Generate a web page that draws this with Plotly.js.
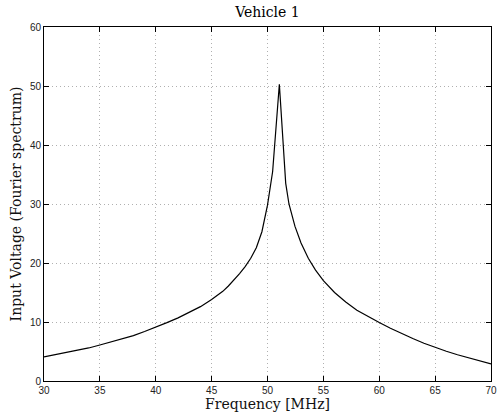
<!DOCTYPE html>
<html>
<head>
<meta charset="utf-8">
<script src="https://cdn.plot.ly/plotly-3.0.1.min.js"></script>
<style>html,body{margin:0;padding:0;background:#fff;}#chart{width:498px;height:419px;}</style>
</head>
<body>
<div id="chart"></div>
<script>
const frequency = [30, 31, 32, 33, 34, 35, 36, 37, 38, 39, 40, 41, 42, 43, 44, 45, 46, 46.5, 47, 47.5, 48, 48.5, 49, 49.5, 50, 50.46, 51.06, 51.63, 51.92, 52.46, 53, 53.65, 54.3, 55, 56, 57, 58, 59, 60, 61, 62, 63, 64, 65, 66, 67, 68, 69, 70];
const voltage   = [4.1, 4.45, 4.8, 5.2, 5.6, 6.1, 6.6, 7.1, 7.7, 8.4, 9.1, 9.9, 10.7, 11.6, 12.6, 13.8, 15.2, 16.1, 17.1, 18.2, 19.4, 20.8, 22.6, 25.3, 29.8, 35.5, 50.3, 33.5, 30.0, 26.2, 23.4, 20.8, 18.8, 17.0, 15.0, 13.4, 12.0, 10.9, 9.9, 8.95, 8.05, 7.2, 6.4, 5.7, 5.05, 4.45, 3.9, 3.4, 2.9];
const xTicks = [30, 35, 40, 45, 50, 55, 60, 65, 70];
const yTicks = [0, 10, 20, 30, 40, 50, 60];

const serif = "DejaVu Serif, serif";
const sans = "Liberation Sans, Arial, sans-serif";

const axisCommon = {
  showline: true, linecolor: '#000', linewidth: 1, mirror: 'ticks',
  ticks: 'inside', ticklen: 5, tickcolor: '#000', tickwidth: 1,
  showgrid: true, gridcolor: '#b0b0b0', griddash: '1px,3px', gridwidth: 1,
  zeroline: false, tickfont: {family: sans, size: 10, color: '#222'}
};

Plotly.newPlot('chart', [{
  x: frequency, y: voltage, type: 'scatter', mode: 'lines',
  line: {color: '#000', width: 1.2}, showlegend: false, hoverinfo: 'skip'
}], {
  width: 498, height: 419,
  margin: {l: 44, r: 7, t: 27, b: 38},
  paper_bgcolor: '#fff', plot_bgcolor: '#fff',
  title: {text: 'Vehicle 1', font: {family: serif, size: 14, color: '#000'}, x: 0.537, xanchor: 'center', y: 0.972, yanchor: 'middle'},
  xaxis: Object.assign({}, axisCommon, {
    range: [30, 70], tickvals: xTicks, ticktext: xTicks.map(String),
    title: {text: 'Frequency [MHz]', font: {family: serif, size: 14, color: '#111'}, standoff: 2}
  }),
  yaxis: Object.assign({}, axisCommon, {
    range: [0, 60], tickvals: yTicks, ticktext: yTicks.map(String),
    title: {text: 'Input Voltage (Fourier spectrum)', font: {family: serif, size: 14, color: '#111'}, standoff: 4}
  })
}, {staticPlot: true});
</script>
</body>
</html>
